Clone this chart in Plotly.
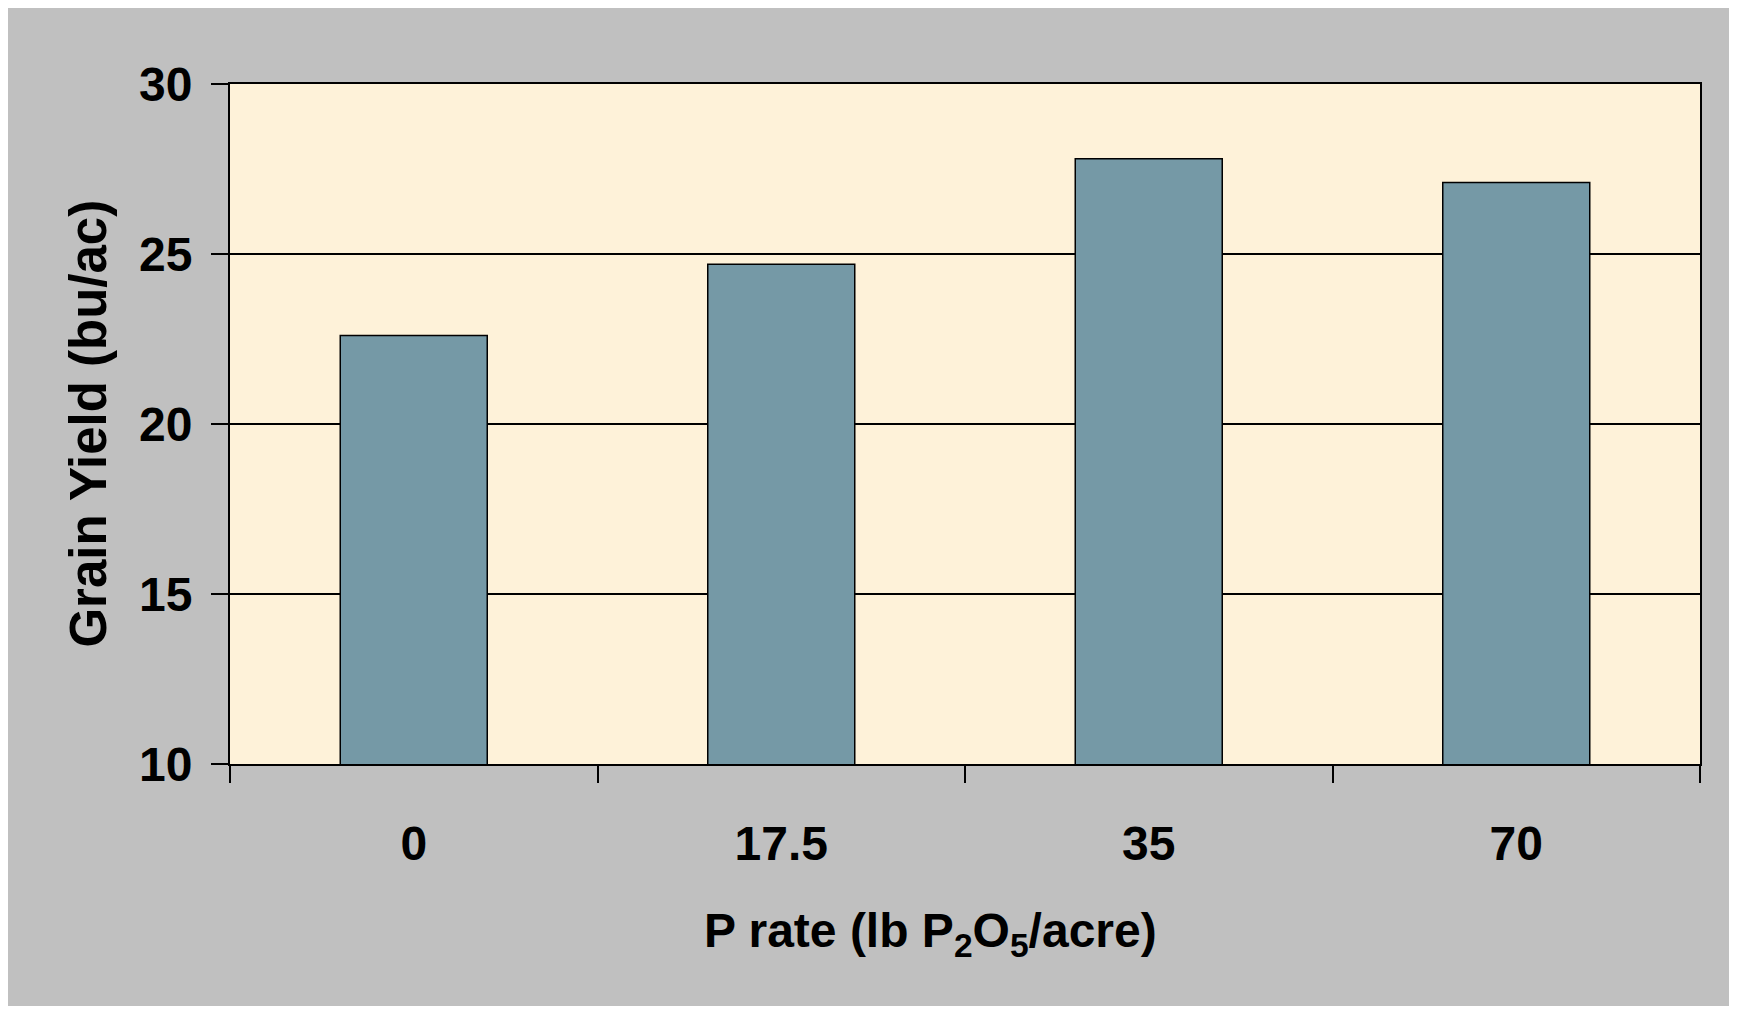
import plotly.graph_objects as go

categories = ["0", "17.5", "35", "70"]
grain_yield = [22.6, 24.7, 27.8, 27.1]
y_ticks = [10, 15, 20, 25, 30]

FONT = "Liberation Sans, Arial, sans-serif"
GRAY = "#C0C0C0"
CREAM = "#FEF2D9"
BAR = "#7599A6"

fig = go.Figure()
fig.add_trace(go.Bar(
    x=categories, y=grain_yield,
    marker=dict(color=BAR, line=dict(color="black", width=1.5)),
    showlegend=False,
))

fig.update_layout(
    width=1726, height=998,
    margin=dict(l=222, r=34, t=76, b=242, pad=0),
    paper_bgcolor=GRAY, plot_bgcolor=CREAM,
    bargap=0.6,
    font=dict(family=FONT, color="black"),
)
fig.update_xaxes(
    type="category",
    showline=True, linecolor="black", linewidth=2, mirror=True,
    ticks="outside", tickson="boundaries", ticklen=17, tickwidth=2, tickcolor="black",
    showgrid=False,
    tickfont=dict(family=FONT, size=48, color="black", weight="bold"),
    ticklabelstandoff=36,
)
fig.update_yaxes(
    range=[10, 30], tickvals=y_ticks, ticktext=[str(v) for v in y_ticks],
    showline=True, linecolor="black", linewidth=2, mirror=True,
    ticks="outside", ticklen=17, tickwidth=2, tickcolor="black",
    showgrid=True, gridcolor="black", gridwidth=2,
    zeroline=False,
    tickfont=dict(family=FONT, size=48, color="black", weight="bold"),
    ticklabelstandoff=9,
)

fig.add_annotation(
    text="Grain Yield (bu/ac)", textangle=-90,
    xref="paper", yref="paper", x=-0.0969, y=0.5,
    xanchor="center", yanchor="middle", showarrow=False,
    font=dict(family=FONT, size=51, color="black", weight="bold"),
)
fig.add_annotation(
    text="P rate (lb P<sub>2</sub>O<sub>5</sub>/acre)",
    xref="paper", yref="paper", x=0.4763, y=-0.25,
    xanchor="center", yanchor="middle", showarrow=False,
    font=dict(family=FONT, size=48, color="black", weight="bold"),
)

fig.write_html("out.html")
